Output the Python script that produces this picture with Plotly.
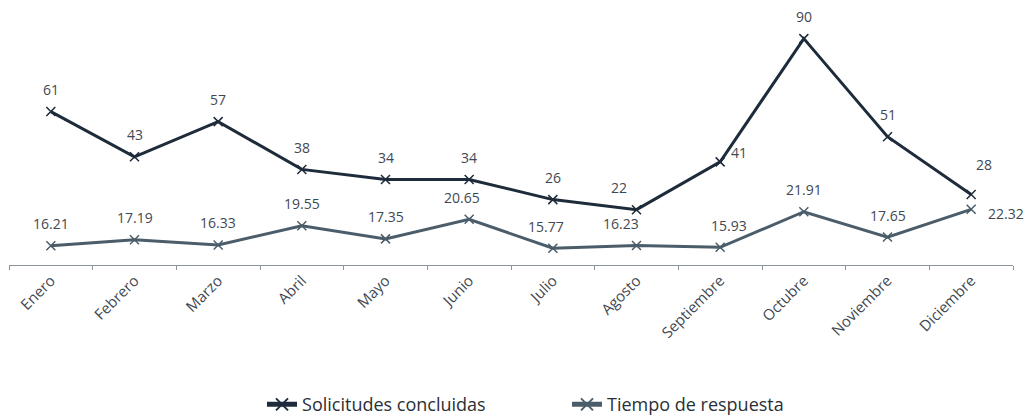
import plotly.graph_objects as go

# Monthly data
meses = ["Enero", "Febrero", "Marzo", "Abril", "Mayo", "Junio", "Julio",
         "Agosto", "Septiembre", "Octubre", "Noviembre", "Diciembre"]
solicitudes = [61, 43, 57, 38, 34, 34, 26, 22, 41, 90, 51, 28]
tiempo = [16.21, 17.19, 16.33, 19.55, 17.35, 20.65, 15.77, 16.23, 15.93, 21.91, 17.65, 22.32]

# Per-point label offsets (x shift, y shift in px)
sol_label_shift = [(0, 22), (0, 22), (0, 22), (0, 22), (0, 22), (0, 22), (0, 22),
                   (-18, 22), (19, 9), (0, 22), (0, 22), (13, 30)]
tie_label_shift = [(0, 22), (0, 22), (0, 22), (0, 22), (0, 22), (-7, 22), (-7, 22),
                   (-16, 22), (9, 22), (0, 22), (0, 22), (35, -4)]

COL_SOL = "#1d2b3a"
COL_TIE = "#4b5d6a"
TXT = "#3f4852"
FONT = "Open Sans"

fig = go.Figure()
fig.add_trace(go.Scatter(
    x=meses, y=solicitudes, name="Solicitudes concluidas", mode="lines+markers",
    line=dict(color=COL_SOL, width=3),
    marker=dict(symbol="x-thin", size=9, line=dict(color=COL_SOL, width=1.5)),
    yaxis="y",
))
fig.add_trace(go.Scatter(
    x=meses, y=tiempo, name="Tiempo de respuesta", mode="lines+markers",
    line=dict(color=COL_TIE, width=3),
    marker=dict(symbol="x-thin", size=9, line=dict(color=COL_TIE, width=1.5)),
    yaxis="y2",
))

annotations = []
for m, v, (dx, dy) in zip(meses, solicitudes, sol_label_shift):
    annotations.append(dict(x=m, y=v, xref="x", yref="y", text=str(v),
                            showarrow=False, xshift=dx, yshift=dy,
                            font=dict(family=FONT, size=14, color=TXT)))
for m, v, (dx, dy) in zip(meses, tiempo, tie_label_shift):
    annotations.append(dict(x=m, y=v, xref="x", yref="y2", text=f"{v:.2f}",
                            showarrow=False, xshift=dx, yshift=dy,
                            font=dict(family=FONT, size=14, color=TXT)))

fig.update_layout(
    width=1035, height=415,
    margin=dict(l=9, r=22, t=20, b=150, autoexpand=False),
    paper_bgcolor="white", plot_bgcolor="white",
    font=dict(family=FONT, color=TXT),
    showlegend=True,
    legend=dict(orientation="h", x=0.252, xanchor="left", y=-0.57, yanchor="middle",
                font=dict(family=FONT, size=18, color="#2a2f35"),
                entrywidth=260, entrywidthmode="pixels",
                itemsizing="constant"),
    xaxis=dict(type="category", range=[-0.5, len(meses) - 0.5],
               showgrid=False, zeroline=False, automargin=False,
               showline=True, linecolor="#8c939a", linewidth=1,
               ticks="outside", tickson="boundaries", ticklen=4, tickcolor="#8c939a",
               tickangle=-45, tickfont=dict(family=FONT, size=15, color=TXT)),
    yaxis=dict(range=[0, 97.4], visible=False, showgrid=False, zeroline=False),
    yaxis2=dict(range=[12.96, 54.13], overlaying="y", visible=False,
                showgrid=False, zeroline=False),
    annotations=annotations,
)

fig.write_html("out.html")
